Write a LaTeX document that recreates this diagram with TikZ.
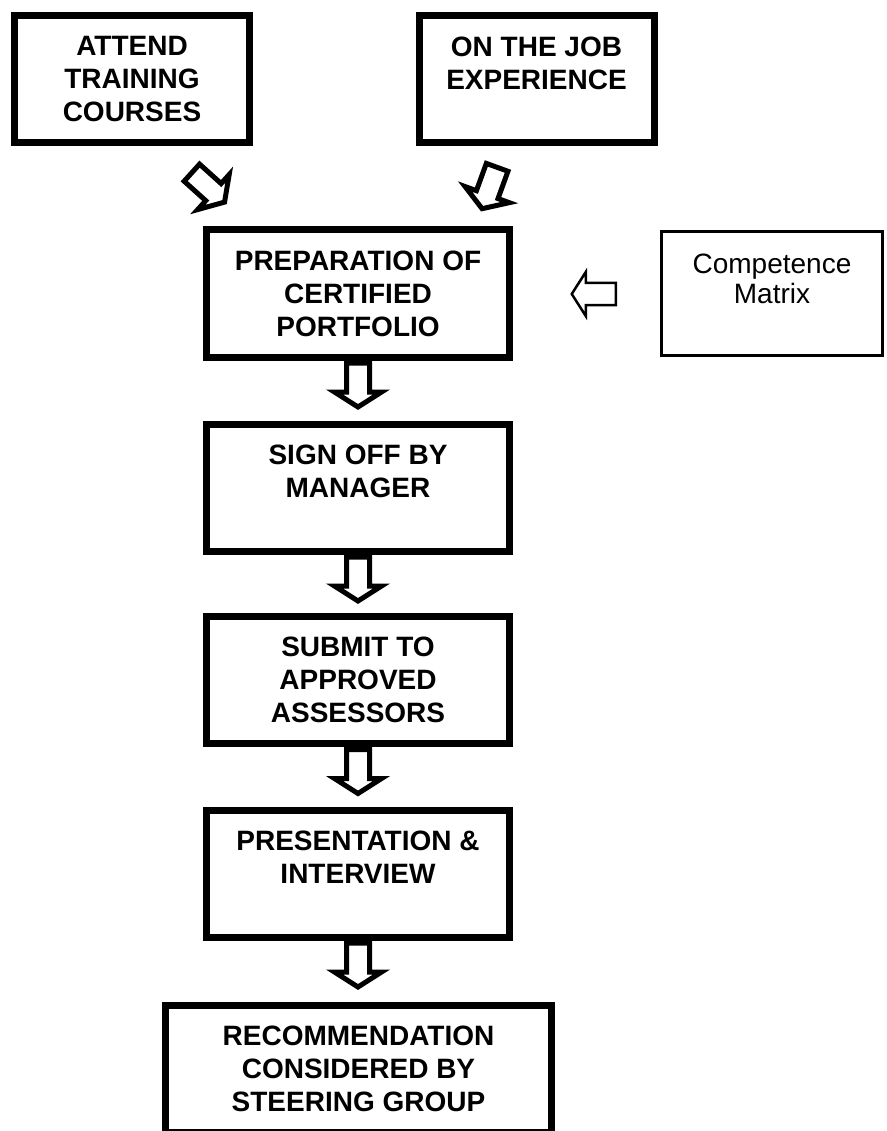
\documentclass[tikz,border=0pt]{standalone}
\usepackage{fontspec}
\setmainfont{Liberation Sans}
\usetikzlibrary{shapes.arrows}

\begin{document}
\begin{tikzpicture}
	[x=1pt,y=-1pt,
	box/.style={draw,line width=7pt,minimum width=303pt,minimum height=127pt,inner sep=0pt,align=center,font=\fontsize{28}{33}\selectfont\bfseries},
	topbox/.style={box,minimum width=235pt},
	sidebox/.style={draw,line width=3pt,minimum width=221pt,minimum height=124pt,inner sep=0pt,align=center,font=\fontsize{28}{30}\selectfont},
	blockarrow/.style={single arrow,draw,line width=5pt,inner xsep=0pt,inner ysep=9pt,minimum height=44pt,single arrow head extend=12pt,single arrow tip angle=115,anchor=tail}]
	\useasboundingbox (0,0) rectangle (886,1131);
	
	\node[topbox] (attend) at (132,79.5) {ATTEND\\TRAINING\\COURSES};
	\node[topbox] (job) at (536.5,79.5) {ON THE JOB\\EXPERIENCE\\\mbox{}};
	\node[box] (prep) at (358,293.5) {PREPARATION OF\\CERTIFIED\\PORTFOLIO};
	\node[sidebox] (matrix) at (772,293.5) {Competence\\Matrix\\\mbox{}};
	\node[box] (sign) at (358,487.5) {SIGN OFF BY\\MANAGER\\\mbox{}};
	\node[box] (submit) at (358,680) {SUBMIT TO\\APPROVED\\ASSESSORS};
	\node[box] (interview) at (358,873.5) {PRESENTATION \&\\INTERVIEW\\\mbox{}};
	\node[box,minimum width=386pt] (steering) at (358.5,1069) {RECOMMENDATION\\CONSIDERED BY\\STEERING GROUP};
	
	\node[blockarrow,rotate=-42] (a1) at (190,171) {};
	\node[blockarrow,rotate=-110] (a2) at (498,165) {};
	\node[blockarrow,rotate=180,line width=2.5pt,inner ysep=9.75pt,minimum height=44pt,single arrow head extend=11pt] (a3) at (617,294) {};
	\node[blockarrow,rotate=-90] (a4) at (prep.south) {};
	\node[blockarrow,rotate=-90] (a5) at (sign.south) {};
	\node[blockarrow,rotate=-90] (a6) at (submit.south) {};
	\node[blockarrow,rotate=-90] (a7) at (interview.south) {};
	
\end{tikzpicture}
\end{document}
